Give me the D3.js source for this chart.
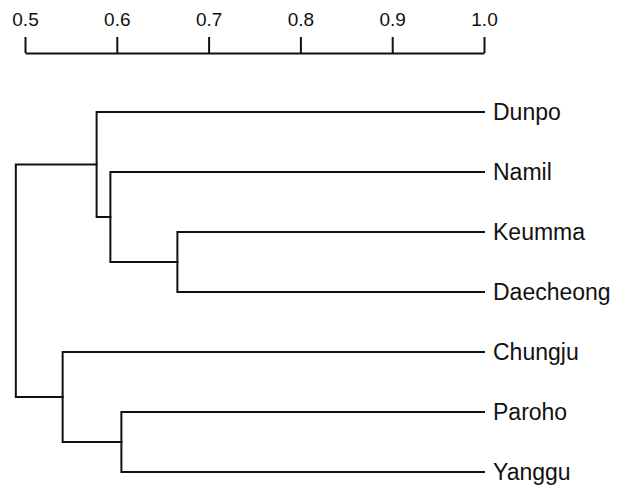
<!DOCTYPE html>
<html>
<head>
<meta charset="utf-8">
<script src="https://cdn.jsdelivr.net/npm/d3@7"></script>
<style>
  body { margin: 0; background: #fff; }
  svg { display: block; }
</style>
</head>
<body>
<div id="chart"></div>
<script>
const leaves = ["Dunpo", "Namil", "Keumma", "Daecheong", "Chungju", "Paroho", "Yanggu"];

// linkage: cluster n+i joins mergeLeft[i] and mergeRight[i] at mergeHeight[i]
const mergeLeft = [2, 1, 0, 5, 4, 9];
const mergeRight = [3, 7, 8, 6, 10, 11];
const mergeHeight = [0.666, 0.593, 0.578, 0.605, 0.541, 0.490];

const tickValues = [0.5, 0.6, 0.7, 0.8, 0.9, 1.0];

const width = 617;
const height = 491;

const svg = d3.select("#chart")
    .append("svg")
    .attr("width", width)
    .attr("height", height);

const x = d3.scaleLinear()
    .domain([0.5, 1.0])
    .range([25, 484]);

const y = d3.scalePoint()
    .domain(leaves)
    .range([112, 472]);

// Axis on top
const axis = svg.append("g")
    .attr("transform", "translate(0,53)")
    .call(d3.axisTop(x)
        .tickValues(tickValues)
        .tickSize(16)
        .tickSizeOuter(0)
        .tickPadding(11)
        .tickFormat(d3.format(".1f")));

axis.selectAll("path, line")
    .attr("stroke", "#111")
    .attr("stroke-width", 2);
axis.selectAll("text")
    .attr("font-family", "Liberation Sans, Arial, sans-serif")
    .attr("font-size", "19px")
    .attr("fill", "#111");

// Build nodes from the linkage
const nodes = leaves.map(name => ({ name, h: 1.0, y: y(name) }));
mergeLeft.forEach((l, i) => {
    const a = nodes[l], b = nodes[mergeRight[i]];
    nodes.push({ h: mergeHeight[i], y: (a.y + b.y) / 2, children: [a, b] });
});

const g = svg.append("g")
    .attr("fill", "none")
    .attr("stroke", "#111")
    .attr("stroke-width", 2)
    .attr("stroke-linecap", "square");

nodes.filter(d => d.children).forEach(d => {
    const [a, b] = d.children;
    g.append("path")
        .attr("d", `M${x(a.h)},${a.y}H${x(d.h)}V${b.y}H${x(b.h)}`);
});

// Leaf labels
svg.selectAll(".label")
    .data(leaves)
    .join("text")
    .attr("x", x(1.0) + 9)
    .attr("y", d => y(d))
    .attr("dy", "0.36em")
    .attr("font-family", "Liberation Sans, Arial, sans-serif")
    .attr("font-size", "23px")
    .attr("fill", "#111")
    .text(d => d);
</script>
</body>
</html>
